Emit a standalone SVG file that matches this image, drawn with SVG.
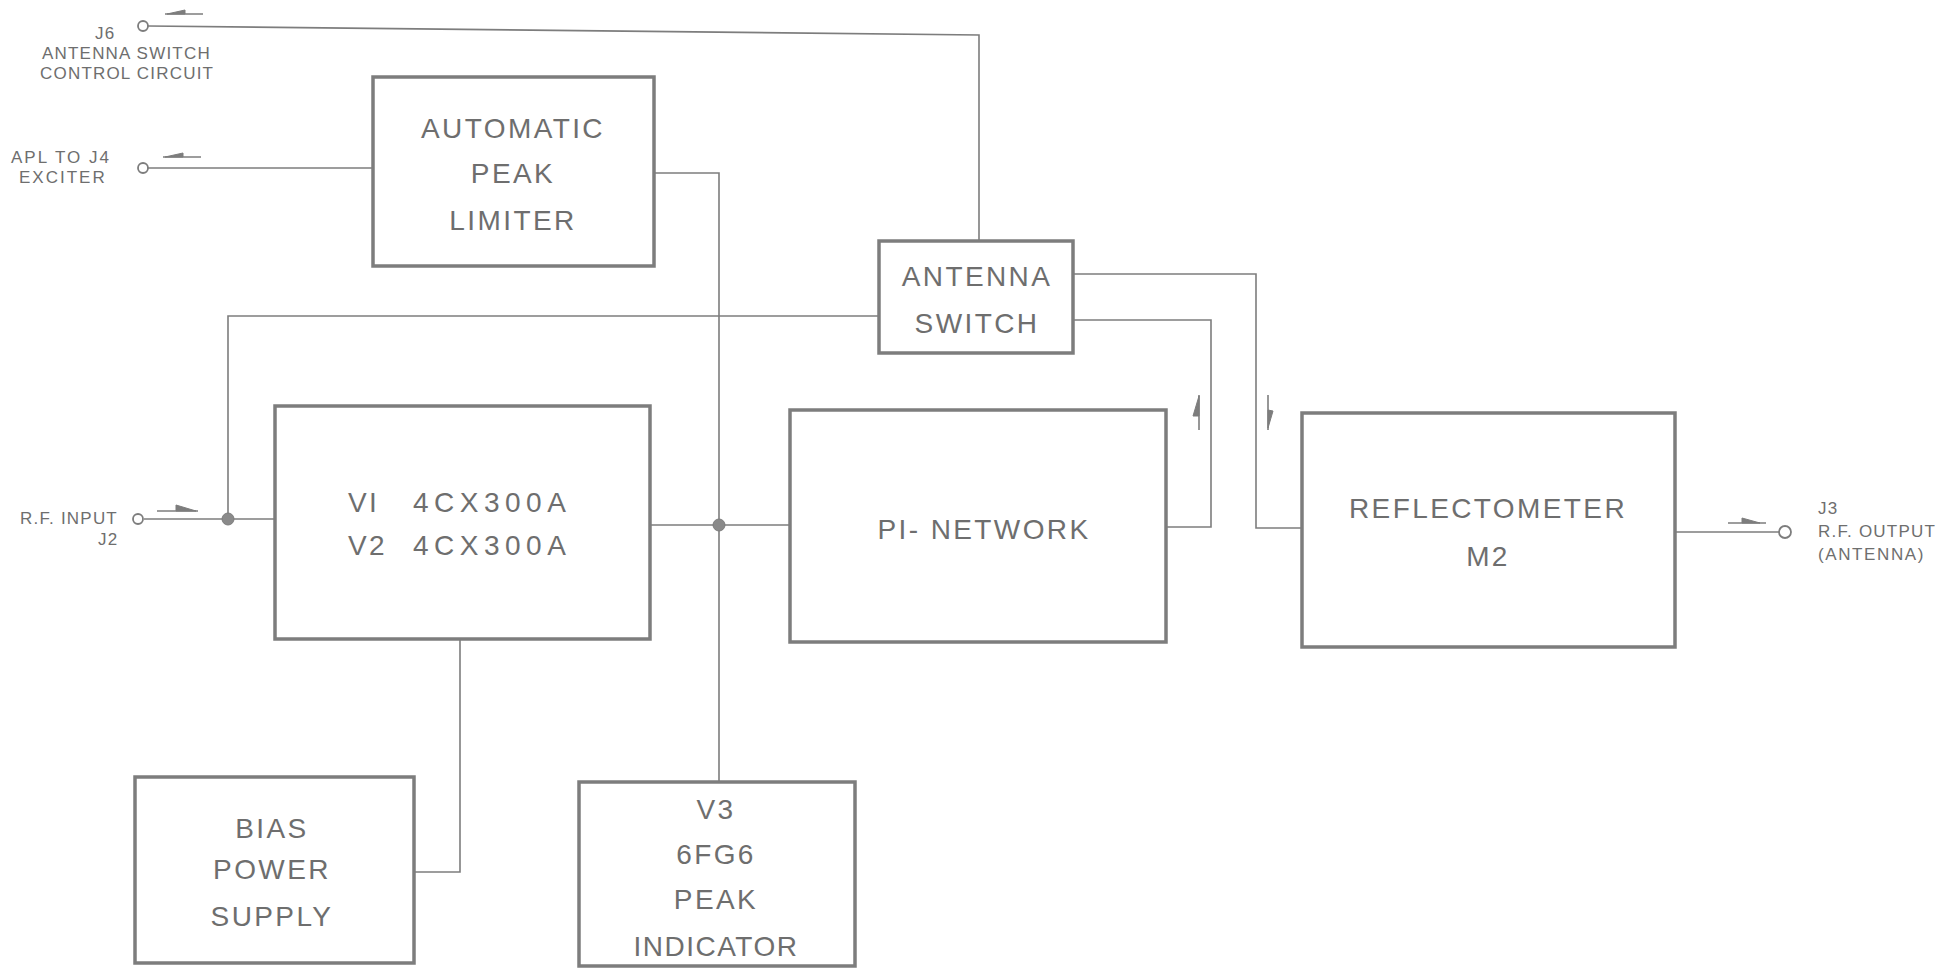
<svg xmlns="http://www.w3.org/2000/svg" width="1943" height="968" viewBox="0 0 1943 968">
<style>
.box{fill:none;stroke:#7d7d7d;stroke-width:3.5}
.ln{fill:none;stroke:#7d7d7d;stroke-width:1.6}
.big{font-family:"Liberation Sans","DejaVu Sans",sans-serif;font-size:28px;fill:#6e6e6e;letter-spacing:2.4px;text-anchor:middle}
.sm{font-family:"Liberation Sans","DejaVu Sans",sans-serif;font-size:17px;fill:#6e6e6e;letter-spacing:1.2px}
.term{fill:#fff;stroke:#7d7d7d;stroke-width:1.8}
.dot{fill:#8a8a8a;stroke:#7d7d7d;stroke-width:1}
.hp{fill:#7d7d7d;stroke:#7d7d7d;stroke-width:1}
.tube{letter-spacing:5.5px}
</style>
<rect width="1943" height="968" fill="#fff"/>

<g id="connectors">
  <polyline class="ln" points="148,26 979,35 979,241"/>
  <line class="ln" x1="148" y1="168" x2="373" y2="168"/>
  <polyline class="ln" points="654,173 719,173 719,782"/>
  <line class="ln" x1="650" y1="525" x2="790" y2="525"/>
  <polyline class="ln" points="879,316 228,316 228,519"/>
  <line class="ln" x1="144" y1="519" x2="275" y2="519"/>
  <polyline class="ln" points="1073,274 1256,274 1256,528 1302,528"/>
  <polyline class="ln" points="1073,320 1211,320 1211,527 1166,527"/>
  <polyline class="ln" points="460,639 460,872 414,872"/>
  <line class="ln" x1="1675" y1="532" x2="1779" y2="532"/>
  <circle class="dot" cx="228" cy="519" r="6"/>
  <circle class="dot" cx="719" cy="525" r="6"/>
  <circle class="term" cx="143" cy="26" r="5"/>
  <circle class="term" cx="143" cy="168" r="5"/>
  <circle class="term" cx="138" cy="519" r="5"/>
  <circle class="term" cx="1785" cy="532" r="6"/>
  <line class="ln" x1="165" y1="14" x2="203" y2="14"/>
  <polygon class="hp" points="167,14 185,10 185,14"/>
  <line class="ln" x1="163" y1="157" x2="201" y2="157"/>
  <polygon class="hp" points="165,157 183,153 183,157"/>
  <line class="ln" x1="157" y1="511" x2="198" y2="511"/>
  <polygon class="hp" points="176,505 196,511 176,511"/>
  <line class="ln" x1="1728" y1="523" x2="1766" y2="523"/>
  <polygon class="hp" points="1742,518 1760,523 1742,523"/>
  <line class="ln" x1="1199" y1="395" x2="1199" y2="430"/>
  <polygon class="hp" points="1199,396 1193,416 1199,416"/>
  <line class="ln" x1="1268" y1="395" x2="1268" y2="430"/>
  <polygon class="hp" points="1268,410 1273,411 1268,428"/>
</g>

<g id="labels">
  <text class="sm" x="95" y="39">J6</text>
  <text class="sm" x="42" y="59">ANTENNA SWITCH</text>
  <text class="sm" x="40" y="79">CONTROL CIRCUIT</text>
  <text class="sm" x="11" y="163" style="letter-spacing:2px">APL TO J4</text>
  <text class="sm" x="19" y="183" style="letter-spacing:2px">EXCITER</text>
  <text class="sm" x="20" y="524">R.F. INPUT</text>
  <text class="sm" x="98" y="545">J2</text>
  <text class="sm" x="1818" y="514">J3</text>
  <text class="sm" x="1818" y="537">R.F. OUTPUT</text>
  <text class="sm" x="1818" y="560" style="letter-spacing:1.6px">(ANTENNA)</text>
</g>

<g id="apl">
  <rect class="box" x="373" y="77" width="281" height="189"/>
  <text class="big" x="513" y="138">AUTOMATIC</text>
  <text class="big" x="513" y="183">PEAK</text>
  <text class="big" x="513" y="230">LIMITER</text>
</g>

<g id="antenna-switch">
  <rect class="box" x="879" y="241" width="194" height="112"/>
  <text class="big" x="977" y="286">ANTENNA</text>
  <text class="big" x="977" y="333">SWITCH</text>
</g>

<g id="v1v2">
  <rect class="box" x="275" y="406" width="375" height="233"/>
  <text class="big" x="348" y="512" style="text-anchor:start">VI<tspan class="tube" x="413">4CX300A</tspan></text>
  <text class="big" x="348" y="555" style="text-anchor:start">V2<tspan class="tube" x="413">4CX300A</tspan></text>
</g>

<g id="pi-network">
  <rect class="box" x="790" y="410" width="376" height="232"/>
  <text class="big" x="984" y="539">PI- NETWORK</text>
</g>

<g id="reflectometer">
  <rect class="box" x="1302" y="413" width="373" height="234"/>
  <text class="big" x="1488" y="518">REFLECTOMETER</text>
  <text class="big" x="1488" y="566">M2</text>
</g>

<g id="bias">
  <rect class="box" x="135" y="777" width="279" height="186"/>
  <text class="big" x="272" y="838">BIAS</text>
  <text class="big" x="272" y="879">POWER</text>
  <text class="big" x="272" y="926">SUPPLY</text>
</g>

<g id="v3">
  <rect class="box" x="579" y="782" width="276" height="184"/>
  <text class="big" x="716" y="819">V3</text>
  <text class="big" x="716" y="864">6FG6</text>
  <text class="big" x="716" y="909">PEAK</text>
  <text class="big" x="716" y="956" style="letter-spacing:1.5px">INDICATOR</text>
</g>
</svg>
